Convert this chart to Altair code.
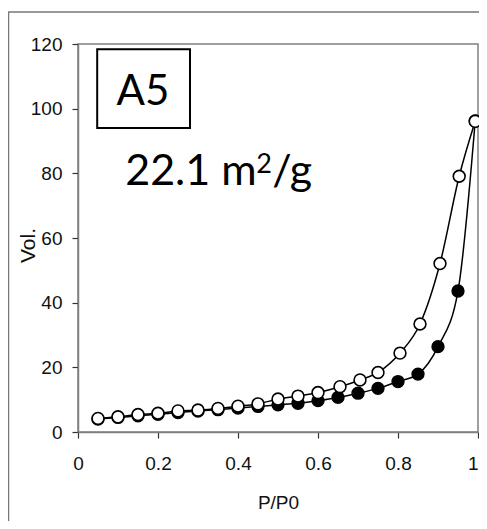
import altair as alt
import pandas as pd

# Adsorption (filled) and desorption (open) isotherm readings
ads_x = [0.05, 0.10, 0.15, 0.20, 0.25, 0.30, 0.35, 0.40, 0.45, 0.50,
         0.55, 0.60, 0.65, 0.70, 0.75, 0.80, 0.85, 0.90, 0.95, 0.993]
ads_y = [4.0, 4.5, 5.0, 5.5, 6.0, 6.5, 6.9, 7.4, 7.9, 8.4,
         8.9, 9.7, 10.7, 12.0, 13.5, 15.6, 17.9, 26.4, 43.6, 96.2]
des_x = [0.05, 0.10, 0.15, 0.20, 0.25, 0.30, 0.35, 0.40, 0.45, 0.50,
         0.55, 0.60, 0.655, 0.705, 0.75, 0.805, 0.855, 0.905, 0.953, 0.993]
des_y = [4.2, 4.7, 5.4, 5.8, 6.5, 6.8, 7.3, 8.0, 8.7, 10.2,
         11.1, 12.2, 14.0, 16.1, 18.4, 24.4, 33.4, 52.1, 79.1, 96.1]

x_ticks = [0, 0.1, 0.2, 0.3, 0.4, 0.5, 0.6, 0.7, 0.8, 0.9, 1.0]
y_ticks = [0, 20, 40, 60, 80, 100, 120]

label_text = ["A5"]
label_x = [0.1625]
label_y = [101.2]
area_parts = ["22.1 m", "2", "/g"]
area_x = [0.118]
area_y = [76.4]
box_x = [0.048]
box_x2 = [0.28]
box_y = [118.4]
box_y2 = [94.0]

ads = pd.DataFrame({"x": ads_x, "y": ads_y, "s": "ads"})
des = pd.DataFrame({"x": des_x, "y": des_y, "s": "des"})
both = pd.concat([ads, des])

GRAY = "#808080"
TICKFONT = "Liberation Sans, Arial, sans-serif"

xs = alt.Scale(domain=[0, 1], nice=False)
ys = alt.Scale(domain=[0, 120], nice=False)

x_enc = alt.X("x:Q", scale=xs, axis=alt.Axis(
    values=x_ticks,
    labelExpr="round(datum.value*10) % 2 == 0 ? format(datum.value, '~g') : ''",
    labelAlign={"condition": {"test": "datum.value >= 0.99", "value": "right"},
                "value": "center"},
    title="P/P0", titleX=200, titleY=70, titleBaseline="middle",
    titleFont="Liberation Sans", titleFontSize=19, titleFontWeight="normal",
    titleColor="#111",
    labelFont=TICKFONT, labelFontSize=19, labelPadding=16, labelColor="#111",
    tickSize=6, tickColor="#333", tickWidth=1.2,
    domainColor=GRAY, domainWidth=1.5, grid=False, labelFlush=False,
))
y_enc = alt.Y("y:Q", scale=ys, axis=alt.Axis(
    values=y_ticks, title="Vol.", titleX=-50, titleY=201,
    titleAngle=270, titleAlign="center", titleBaseline="middle",
    titleFont="Liberation Sans", titleFontSize=21, titleFontWeight="normal",
    titleColor="#111",
    labelFont=TICKFONT, labelFontSize=19, labelPadding=10, labelColor="#111",
    tickSize=6, tickColor="#333", tickWidth=1.2,
    domainColor=GRAY, domainWidth=1.5, grid=False,
))

frame = alt.Chart(pd.DataFrame({"a": [0]})).mark_rect(
    filled=False, stroke="#777", strokeWidth=1.5
).encode(x=alt.value(-69.5), x2=alt.value(440), y=alt.value(-32), y2=alt.value(560))

lines = alt.Chart(both).mark_line(
    interpolate="monotone", color="black", strokeWidth=1.5
).encode(x=x_enc, y=y_enc, detail="s:N")

pts_ads = alt.Chart(ads).mark_point(
    shape="circle", filled=True, fill="black", stroke="black",
    strokeWidth=1.5, size=140, opacity=1
).encode(x="x:Q", y="y:Q")

pts_des = alt.Chart(des).mark_point(
    shape="circle", filled=True, fill="white", stroke="black",
    strokeWidth=1.6, size=140, opacity=1
).encode(x="x:Q", y="y:Q")

box = alt.Chart(pd.DataFrame({"x": box_x, "x2": box_x2, "y": box_y, "y2": box_y2})).mark_rect(
    filled=False, stroke="black", strokeWidth=2
).encode(x="x:Q", x2="x2:Q", y="y:Q", y2="y2:Q")

lab = alt.Chart(pd.DataFrame({"x": label_x, "y": label_y, "t": label_text})).mark_text(
    font="Lato", fontSize=42, align="center", baseline="alphabetic", color="black"
).encode(x="x:Q", y="y:Q", text="t:N")

area_df = pd.DataFrame({"x": area_x * 3, "y": area_y * 3, "t": area_parts})

area_main = alt.Chart(area_df).transform_filter("datum.t == '22.1 m'").mark_text(
    font="Lato", fontSize=43, align="left", baseline="alphabetic", color="black"
).encode(x="x:Q", y="y:Q", text="t:N")

area_sup = alt.Chart(area_df).transform_filter("datum.t == '2'").mark_text(
    font="Lato", fontSize=27, align="left", baseline="alphabetic", color="black",
    dx=131, dy=-12
).encode(x="x:Q", y="y:Q", text="t:N")

area_tail = alt.Chart(area_df).transform_filter("datum.t == '/g'").mark_text(
    font="Lato", fontSize=43, align="left", baseline="alphabetic", color="black",
    dx=147
).encode(x="x:Q", y="y:Q", text="t:N")

chart = alt.layer(frame, lines, pts_ads, pts_des, box, lab,
                  area_main, area_sup, area_tail).properties(
    width=400, height=388,
    autosize=alt.AutoSizeParams(type="none"),
    padding={"left": 70, "top": 36, "right": 1, "bottom": 89},
    background="white",
).configure_view(stroke=GRAY, strokeWidth=1.5)

chart.save("out.html", embed_options={"renderer": "svg", "actions": False})
